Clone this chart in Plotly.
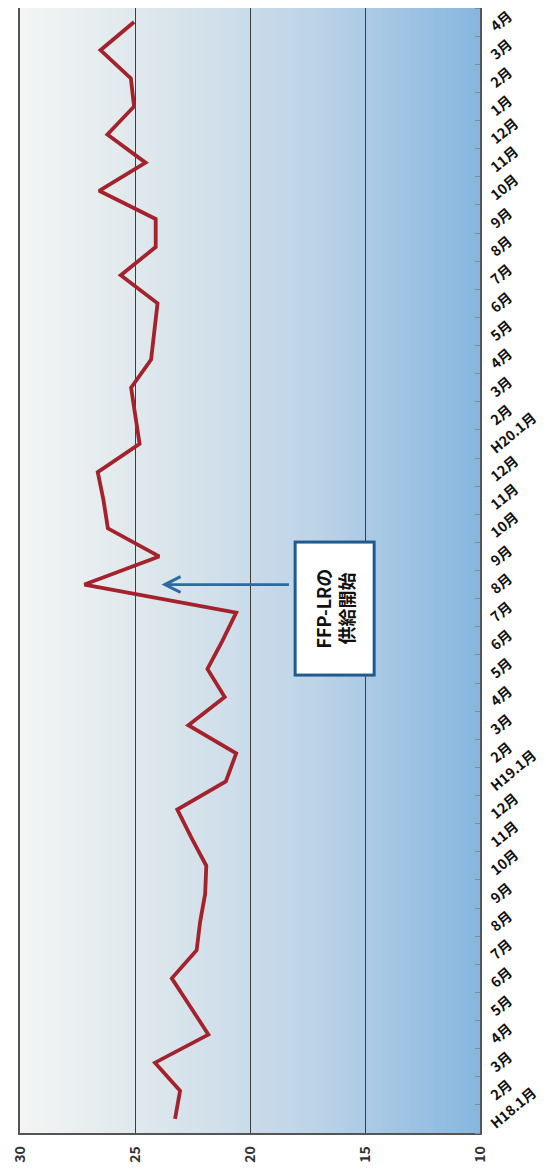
import plotly.graph_objects as go

# ---- data ----
categories = (["H18.1月"] + [f"{m}月" for m in range(2, 13)]
              + ["H19.1月"] + [f"{m}月" for m in range(2, 13)]
              + ["H20.1月"] + [f"{m}月" for m in range(2, 13)]
              + ["1月", "2月", "3月", "4月"])

values = [23.26, 23.04, 24.13, 21.81, 22.6, 23.4, 22.32, 22.17, 21.95, 21.9,
          22.55, 23.16, 21.05, 20.6, 22.68, 21.1, 21.85, 21.2, 20.6, 27.2,
          23.95, 26.18, 26.37, 26.62, 24.8, 25.0, 25.17, 24.3, 24.17, 24.02,
          25.62, 24.1, 24.1, 26.56, 24.54, 26.2, 25.04, 25.18, 26.5, 25.04]

value_ticks = [10, 15, 20, 25, 30]
annotation_text = "FFP-LRの<br>供給開始"
arrow_target = (23.85, 19)      # value, category index (FFP-LR supply start)
box_center = (16.3, 18.15)

idx = list(range(len(categories)))

fig = go.Figure()
fig.add_trace(go.Scatter(
    x=values, y=idx, mode="lines",
    line=dict(color="#a3222b", width=3.8),
    hoverinfo="skip", showlegend=False,
))

# horizontal gradient background (white-grey on the left to blue on the right)
c_stops = [(0.0, (243, 245, 244)), (0.3, (220, 230, 236)),
           (0.65, (188, 211, 231)), (1.0, (134, 182, 223))]

def lerp(t):
    for (t0, a), (t1, b) in zip(c_stops[:-1], c_stops[1:]):
        if t0 <= t <= t1:
            f = (t - t0) / (t1 - t0)
            return tuple(round(a[k] + (b[k] - a[k]) * f) for k in range(3))
    return c_stops[-1][1]

shapes = []
n = 80
for k in range(n):
    x0 = k / n
    x1 = (k + 1) / n + 0.002
    col = lerp((k + 0.5) / n)
    shapes.append(dict(type="rect", xref="x domain", yref="y domain",
                       x0=x0, x1=min(x1, 1), y0=0, y1=1, layer="below",
                       line=dict(width=0), fillcolor=f"rgb{col}"))

fig.update_layout(
    width=538, height=1166,
    margin=dict(l=12, r=66, t=0, b=41),
    paper_bgcolor="white",
    plot_bgcolor="white",
    shapes=shapes,
    font=dict(family="Noto Sans CJK JP, Noto Sans, sans-serif", color="#222"),
    xaxis=dict(
        range=[30, 10], tickvals=value_ticks, ticktext=[str(v) for v in value_ticks],
        tickangle=-90, showgrid=True, gridcolor="#3c3c3c", gridwidth=1,
        zeroline=False, showline=True, linecolor="#555", linewidth=1.5, mirror=True,
        ticks="", automargin=False, ticklabeloverflow="allow",
        ticklabelstandoff=6,
        tickfont=dict(size=14, color="#333", weight="bold"),
    ),
    yaxis=dict(
        range=[-0.5, len(categories) - 0.5], side="right",
        tickvals=idx, ticktext=categories, tickangle=-40,
        showgrid=False, zeroline=False, showline=True, linecolor="#555",
        linewidth=1.5, mirror=True, ticks="", automargin=False,
        ticklabeloverflow="allow", ticklabelstandoff=7, ticklabelshift=7,
        tickfont=dict(size=14, color="#111", weight="bold"),
        minor=dict(ticks="inside", tick0=0.5, dtick=1, ticklen=5,
                   tickcolor="#6a8fb0", showgrid=False),
    ),
    annotations=[
        dict(x=arrow_target[0], y=arrow_target[1], xref="x", yref="y",
             text="", showarrow=True, arrowhead=5, arrowsize=1.1,
             arrowwidth=2.8, arrowcolor="#2d6a9f", ax=129, ay=0,
             axref="pixel", ayref="pixel"),
        dict(x=box_center[0], y=box_center[1], xref="x", yref="y",
             text=annotation_text, showarrow=False, textangle=-90,
             font=dict(size=18, color="#111", weight="bold"),
             bgcolor="white", bordercolor="#1f5b8c", borderwidth=3,
             borderpad=6, width=118, height=64, align="center"),
    ],
)

fig.write_html("out.html")
